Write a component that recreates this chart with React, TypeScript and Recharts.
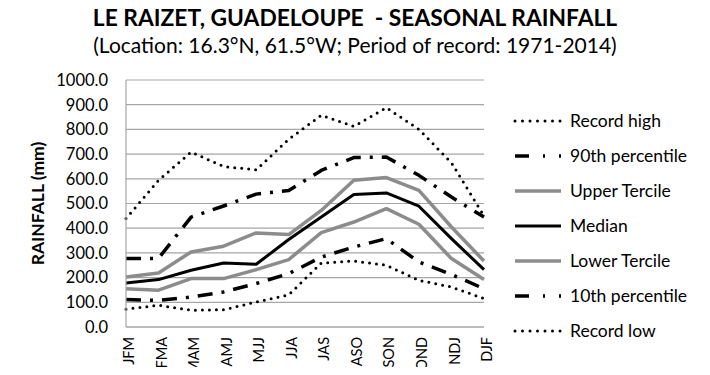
import { CartesianGrid, Line, LineChart, XAxis, YAxis } from "recharts"

const SEASONS = ["JFM", "FMA", "MAM", "AMJ", "MJJ", "JJA", "JAS", "ASO", "SON", "OND", "NDJ", "DJF"]
const RECORD_HIGH = [439, 594, 708, 650, 636, 760, 857, 812, 888, 800, 665, 450]
const P90 = [277, 278, 445, 490, 538, 553, 634, 686, 688, 614, 526, 445]
const UPPER_TERCILE = [202, 219, 304, 327, 381, 374, 472, 594, 605, 553, 405, 267]
const MEDIAN = [178, 192, 230, 259, 254, 354, 445, 536, 543, 489, 358, 232]
const LOWER_TERCILE = [155, 149, 196, 196, 232, 273, 382, 425, 479, 416, 277, 192]
const P10 = [111, 108, 121, 142, 176, 216, 283, 324, 358, 263, 213, 155]
const RECORD_LOW = [72, 88, 68, 70, 101, 130, 259, 267, 250, 189, 162, 115]
const Y_TICKS = [0, 100, 200, 300, 400, 500, 600, 700, 800, 900, 1000]

const FONT = "Lato, 'Open Sans', sans-serif"
const GRAY = "#8c8c8c"
const DOTTED = "0 7"
const DASHDOT = "15 9 3 9"

const data = SEASONS.map((s, i) => ({
  season: s,
  high: RECORD_HIGH[i],
  p90: P90[i],
  upper: UPPER_TERCILE[i],
  median: MEDIAN[i],
  lower: LOWER_TERCILE[i],
  p10: P10[i],
  low: RECORD_LOW[i],
}))

const series = [
  { key: "high", name: "Record high", color: "#000", width: 3, dash: DOTTED, cap: "round" },
  { key: "p90", name: "90th percentile", color: "#000", width: 3.5, dash: DASHDOT, cap: "butt" },
  { key: "upper", name: "Upper Tercile", color: GRAY, width: 3.5, dash: undefined, cap: "butt" },
  { key: "median", name: "Median", color: "#000", width: 3, dash: undefined, cap: "butt" },
  { key: "lower", name: "Lower Tercile", color: GRAY, width: 3.5, dash: undefined, cap: "butt" },
  { key: "p10", name: "10th percentile", color: "#000", width: 3.5, dash: DASHDOT, cap: "butt" },
  { key: "low", name: "Record low", color: "#000", width: 3, dash: DOTTED, cap: "round" },
] as const

function SeasonTick({ x, payload }: any) {
  // x-axis line sits at y=327; labels start just below it
  return (
    <text
      x={0}
      y={0}
      dy="0.35em"
      transform={`translate(${x + 3},${337}) rotate(-90)`}
      textAnchor="end"
      fontSize={14.5}
      fontFamily={FONT}
      fill="#000"
    >
      {payload.value}
    </text>
  )
}

// legend drawn by hand, Excel style: sample line + label
function LegendBox() {
  return (
    <svg width={205} height={250} style={{ display: "block" }}>
      {series.map((s, i) => {
        const y = 17 + i * 35
        return (
          <g key={s.key}>
            <line
              x1={12}
              x2={58}
              y1={y}
              y2={y}
              stroke={s.color}
              strokeWidth={s.width}
              strokeDasharray={s.dash === DOTTED ? "0 7.5" : s.dash === DASHDOT ? "14 14 2 14" : undefined}
              strokeLinecap={s.cap}
            />
            <text x={67} y={y} dy="0.35em" fontSize={17.5} fontFamily={FONT} fill="#000">
              {s.name}
            </text>
          </g>
        )
      })}
    </svg>
  )
}

export default function App() {
  return (
    <div style={{ position: "relative", width: 710, height: 375, margin: -8, background: "#fff", fontFamily: FONT, overflow: "hidden" }}>
      <div style={{ position: "absolute", left: 0, top: 0, width: 2, height: 375, background: "#8a8a8a" }} />
      <div style={{ position: "absolute", left: 707, top: 0, width: 3, height: 375, background: "#8a8a8a" }} />
      <div style={{ position: "absolute", left: 0, top: 3, width: 710, textAlign: "center", fontWeight: 700, fontSize: 22.8, lineHeight: "28px" }}>
        LE RAIZET, GUADELOUPE&nbsp; - SEASONAL RAINFALL
      </div>
      <div style={{ position: "absolute", left: 0, top: 32, width: 710, textAlign: "center", fontSize: 21, lineHeight: "26px" }}>
        (Location: 16.3°N, 61.5°W; Period of record: 1971-2014)
      </div>
      <div style={{ position: "absolute", left: 0, top: 0 }}>
        <LineChart
          width={710}
          height={375}
          data={data}
          margin={{ top: 80, right: 226, bottom: 0, left: 0 }}
        >
          <CartesianGrid vertical={false} stroke="#a6a6a6" strokeWidth={1.2} />
          <XAxis
            dataKey="season"
            interval={0}
            height={48}
            tick={<SeasonTick />}
            tickLine={false}
            axisLine={{ stroke: "#a6a6a6", strokeWidth: 1.2 }}
          />
          <YAxis
            width={126}
            domain={[0, 1000]}
            ticks={Y_TICKS}
            interval={0}
            tickFormatter={(v) => Number(v).toFixed(1)}
            tick={{ fontSize: 16.5, fill: "#000", fontFamily: FONT }}
            tickLine={false}
            tickSize={0}
            tickMargin={18}
            axisLine={{ stroke: "#a6a6a6", strokeWidth: 1.2 }}
            label={{
              value: "RAINFALL (mm)",
              angle: -90,
              position: "insideLeft",
              offset: 38,
              style: { fontSize: 17.5, fontWeight: 700, fill: "#000", fontFamily: FONT, textAnchor: "middle" },
            }}
          />
          {series.map((s) => (
            <Line
              key={s.key}
              dataKey={s.key}
              name={s.name}
              type="linear"
              stroke={s.color}
              strokeWidth={s.width}
              strokeDasharray={s.dash}
              strokeLinecap={s.cap}
              strokeLinejoin="round"
              dot={false}
              activeDot={false}
              isAnimationActive={false}
            />
          ))}
        </LineChart>
      </div>
      <div style={{ position: "absolute", left: 503, top: 104 }}>
        <LegendBox />
      </div>
    </div>
  )
}
